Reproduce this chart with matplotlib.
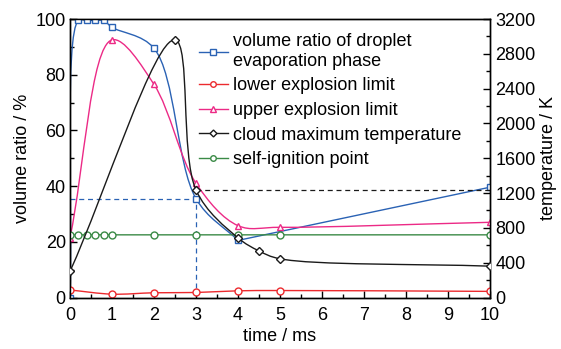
import numpy as np
import matplotlib
matplotlib.use("Agg")
import matplotlib.pyplot as plt
from matplotlib.path import Path
from matplotlib.patches import PathPatch
from matplotlib.lines import Line2D
from matplotlib.ticker import MultipleLocator

# data read in ms / % / K
time_vr = [0, 0.2, 0.4, 0.6, 0.8, 1.0, 2.0, 3.0, 4.0, 10.0]
volume_ratio = [0, 99.5, 99.5, 99.5, 99.5, 97.0, 89.5, 35.5, 20.5, 39.6]

time_lel = [0, 1, 2, 3, 4, 5, 10]
lower_limit = [2.7, 1.2, 1.7, 1.8, 2.4, 2.5, 2.2]

time_uel = [0, 1, 2, 3, 4, 5, 10]
upper_limit = [21.5, 92.5, 76.5, 41.0, 25.8, 25.2, 27.0]

time_temp = [0, 2.5, 3, 4, 4.5, 5, 10]
max_temp = [300, 2960, 1235, 685, 535, 445, 360]

time_sip = [0, 0.2, 0.4, 0.6, 0.8, 1.0, 2, 3, 4, 5, 10]
self_ignition = [22.5, 22.5, 22.5, 22.5, 22.5, 22.5, 22.5, 22.5, 22.5, 22.5, 22.5]

# reference levels (dashed guides)
ratio_at_3ms = 35.5
temp_at_3ms = 1235

BLUE = "#2a62b4"
RED = "#ec2a2e"
PINK = "#ec2a86"
GREEN = "#3a8a46"
BLACK = "#1a1a1a"

plt.rcParams["font.family"] = ["Liberation Sans", "DejaVu Sans"]


def smooth_line(ax, x, y, color, lw=1.0, alpha=0.5):
    """Centripetal Catmull-Rom curve through the points, built in display space."""
    pts = ax.transData.transform(np.column_stack([x, y]))
    p = np.vstack([2 * pts[0] - pts[1], pts, 2 * pts[-1] - pts[-2]])
    verts = [pts[0]]
    codes = [Path.MOVETO]
    for i in range(1, len(p) - 2):
        p0, p1, p2, p3 = p[i - 1], p[i], p[i + 1], p[i + 2]
        d01 = max(np.linalg.norm(p1 - p0) ** alpha, 1e-6)
        d12 = max(np.linalg.norm(p2 - p1) ** alpha, 1e-6)
        d23 = max(np.linalg.norm(p3 - p2) ** alpha, 1e-6)
        m1 = ((p1 - p0) / d01 - (p2 - p0) / (d01 + d12) + (p2 - p1) / d12) * d12
        m2 = ((p2 - p1) / d12 - (p3 - p1) / (d12 + d23) + (p3 - p2) / d23) * d12
        verts += [p1 + m1 / 3, p2 - m2 / 3, p2]
        codes += [Path.CURVE4] * 3
    verts = ax.transData.inverted().transform(np.array(verts))
    ax.add_patch(PathPatch(Path(verts, codes), fill=False, edgecolor=color,
                           lw=lw, zorder=2))


fig = plt.figure(figsize=(5.61, 3.49), dpi=100)
ax = fig.add_axes([70 / 561, 51.5 / 349, 420 / 561, 278.5 / 349])
ax2 = ax.twinx()

ax.set_xlim(0, 10)
ax.set_ylim(0, 100)
ax2.set_ylim(0, 3200)

mk = dict(ms=5, mew=1.0, mfc="white", ls="none", zorder=3)

# droplet phase: smooth up to 4 ms, straight afterwards
smooth_line(ax, time_vr[:-1], volume_ratio[:-1], BLUE)
ax.plot(time_vr[-2:], volume_ratio[-2:], color=BLUE, lw=1.0, zorder=2)
ax.plot(time_vr, volume_ratio, marker="s", color=BLUE, **mk)

smooth_line(ax, time_lel, lower_limit, RED)
ax.plot(time_lel, lower_limit, marker="o", color=RED, **mk)

smooth_line(ax, time_uel, upper_limit, PINK)
ax.plot(time_uel, upper_limit, marker="^", color=PINK, **mk)

smooth_line(ax, time_sip, self_ignition, GREEN)
ax.plot(time_sip, self_ignition, marker="o", color=GREEN, **mk)

smooth_line(ax2, time_temp, max_temp, BLACK)
ax2.plot(time_temp, max_temp, marker="D", color=BLACK, ms=4.5, mew=1.0,
         mfc="white", ls="none", zorder=3)

# dashed guides at t = 3 ms
ax.plot([0, 3, 3], [ratio_at_3ms, ratio_at_3ms, 0], ls=(0, (4, 3)), color=BLUE,
        lw=0.9, zorder=1)
ax2.plot([3, 10], [temp_at_3ms, temp_at_3ms], ls=(0, (4, 3)), color=BLACK,
         lw=0.9, zorder=1)

ax.xaxis.set_major_locator(MultipleLocator(1))
ax.xaxis.set_minor_locator(MultipleLocator(0.5))
ax.yaxis.set_major_locator(MultipleLocator(20))
ax.yaxis.set_minor_locator(MultipleLocator(10))
ax2.yaxis.set_major_locator(MultipleLocator(400))
ax2.yaxis.set_minor_locator(MultipleLocator(200))

for a in (ax, ax2):
    a.tick_params(which="both", direction="in", width=1.0, top=False,
                  labelsize=13)
    a.tick_params(which="major", length=5)
    a.tick_params(which="minor", length=3)
    for s in a.spines.values():
        s.set_linewidth(1.0)
ax.tick_params(right=False)
ax.tick_params(axis="x", pad=7)
ax.tick_params(axis="y", pad=3)
ax2.tick_params(left=False, pad=4)

ax.set_xlabel("time / ms", fontsize=13, labelpad=3)
ax.set_ylabel("volume ratio / %", fontsize=13, labelpad=3)
ax2.set_ylabel("temperature / K", fontsize=13, labelpad=3)

handles = [
    Line2D([], [], color=BLUE, marker="s", ms=4, mfc="white", lw=1.0),
    Line2D([], [], color=RED, marker="o", ms=4, mfc="white", lw=1.0),
    Line2D([], [], color=PINK, marker="^", ms=4.5, mfc="white", lw=1.0),
    Line2D([], [], color=BLACK, marker="D", ms=3.5, mfc="white", lw=1.0),
    Line2D([], [], color=GREEN, marker="o", ms=4, mfc="white", lw=1.0),
]
labels = [
    "volume ratio of droplet\nevaporation phase",
    "lower explosion limit",
    "upper explosion limit",
    "cloud maximum temperature",
    "self-ignition point",
]
ax2.legend(handles, labels, loc="upper left", bbox_to_anchor=(0.29, 0.975),
           frameon=False, fontsize=13, handlelength=1.6, handletextpad=0.3,
           labelspacing=0.42, borderaxespad=0.0)

fig.savefig("out.png", dpi=100)
